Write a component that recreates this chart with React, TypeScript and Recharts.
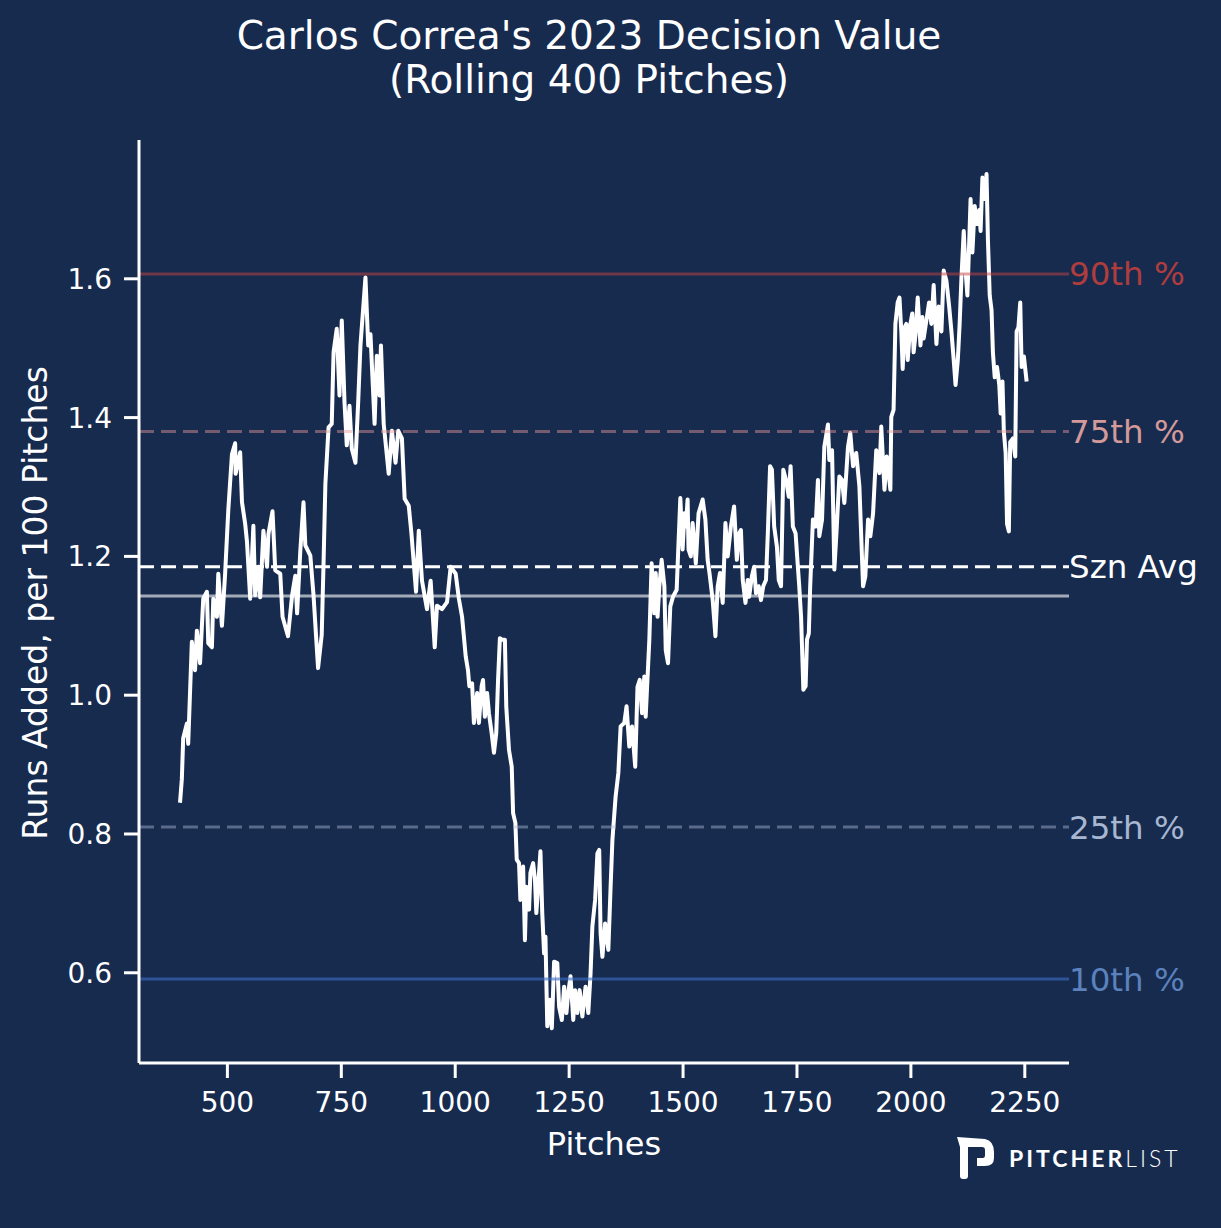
import { LineChart, Line, XAxis, YAxis, ReferenceLine } from 'recharts'

// rolling 400-pitch decision value
const pitchNumbers = [
  396, 400, 403, 411, 414, 422, 429, 433, 440, 447, 455, 458, 466, 469, 477, 480, 488, 495, 502, 510,
  517, 518, 528, 532, 539, 543, 550, 557, 561, 568, 572, 579, 587, 590, 599, 605, 616, 621, 633, 642,
  649, 653, 660, 667, 671, 682, 689, 699, 707, 711, 715, 722, 729, 733, 740, 746, 751, 757, 762, 768,
  773, 781, 787, 792, 803, 809, 814, 823, 828, 834, 837, 843, 854, 861, 869, 875, 883, 889, 898, 904,
  914, 920, 927, 938, 946, 955, 960, 971, 982, 990, 1001, 1008, 1015,
  1023, 1028, 1031, 1037, 1041, 1048, 1052, 1058, 1061, 1065, 1070, 1074, 1080, 1085, 1090, 1094, 1098,
  1103, 1109, 1112, 1118, 1124, 1127, 1132, 1135, 1140, 1143, 1149, 1153, 1156, 1162, 1165, 1171, 1175,
  1178, 1182, 1187, 1191, 1195, 1198, 1202, 1207, 1212, 1217, 1224, 1228, 1234, 1239, 1244, 1248, 1253,
  1259, 1263, 1268, 1273, 1279, 1286, 1292, 1297, 1301, 1307, 1312, 1316, 1319, 1323, 1329, 1336, 1341,
  1345, 1352, 1358, 1363, 1371, 1376, 1382, 1388, 1395, 1400, 1405, 1410, 1415, 1418,
  1426, 1431, 1437, 1440, 1444, 1448, 1453, 1459, 1462, 1467, 1472, 1478, 1486, 1490, 1494, 1499, 1503,
  1506, 1510, 1512, 1517, 1521, 1528, 1534, 1543, 1549, 1554, 1558, 1565, 1571, 1576, 1581, 1587, 1593,
  1598, 1605, 1612, 1618, 1623, 1627, 1631, 1637, 1642, 1645, 1651, 1656, 1660, 1666, 1671, 1676, 1682,
  1686, 1691, 1695, 1700, 1706, 1710, 1715, 1720, 1726, 1732, 1736, 1741, 1747, 1752, 1755, 1759, 1764,
  1769, 1772, 1776, 1779, 1785, 1791, 1796, 1799, 1805, 1810, 1818, 1821, 1827, 1832, 1837, 1843, 1849,
  1854, 1862, 1867, 1873, 1880, 1887, 1895, 1900, 1906, 1911, 1917, 1924, 1931, 1935, 1942, 1947, 1955,
  1957, 1962, 1966, 1971, 1975, 1979, 1982, 1986, 1990, 1993, 1999, 2003, 2006, 2010, 2015, 2021, 2025,
  2028, 2034, 2040, 2045, 2050, 2056, 2061, 2067, 2072, 2078, 2084, 2089, 2094, 2098, 2103, 2107, 2111,
  2116, 2120, 2124, 2128, 2131, 2135, 2140, 2145, 2150, 2153, 2157, 2162, 2166, 2169, 2173, 2177, 2180,
  2184, 2189, 2194, 2197, 2201, 2204, 2208, 2211, 2215, 2218, 2224, 2229, 2232, 2236, 2240, 2243, 2248, 2254,
]

const decisionValues = [
  0.845, 0.879, 0.938, 0.959, 0.93, 1.077, 1.036, 1.093, 1.046, 1.139, 1.149, 1.075, 1.069, 1.139, 1.113, 1.175, 1.1, 1.175, 1.267, 1.347,
  1.363, 1.319, 1.35, 1.278, 1.247, 1.221, 1.139, 1.244, 1.144, 1.185, 1.141, 1.237, 1.185, 1.232, 1.265, 1.18, 1.175, 1.113, 1.085, 1.144,
  1.172, 1.118, 1.208, 1.278, 1.216, 1.201, 1.144, 1.039, 1.087, 1.19, 1.304, 1.386, 1.391, 1.494, 1.528, 1.432, 1.54, 1.422, 1.36, 1.417,
  1.355, 1.335, 1.422, 1.504, 1.602, 1.504, 1.52, 1.391, 1.489, 1.432, 1.504, 1.391, 1.319, 1.381, 1.335, 1.381, 1.37, 1.283, 1.273, 1.232,
  1.149, 1.237, 1.165, 1.124, 1.165, 1.069, 1.129, 1.124, 1.134, 1.185, 1.175, 1.139, 1.113,
  1.056, 1.036, 1.013, 1.017, 0.96, 1.003, 0.96, 1.013, 1.022, 0.969, 1.003, 0.974, 0.945, 0.917, 0.945, 1.022, 1.082,
  1.08, 1.08, 0.984, 0.921, 0.897, 0.83, 0.816, 0.763, 0.758, 0.705, 0.753, 0.647, 0.724, 0.691, 0.744, 0.758, 0.734,
  0.686, 0.724, 0.775, 0.686, 0.628, 0.652, 0.523, 0.561, 0.52, 0.616, 0.614, 0.551, 0.532, 0.58, 0.542, 0.571, 0.595,
  0.532, 0.575, 0.542, 0.575, 0.537, 0.58, 0.542, 0.599, 0.667, 0.705, 0.772, 0.777, 0.657, 0.623, 0.671, 0.633, 0.724,
  0.792, 0.854, 0.888, 0.955, 0.96, 0.984, 0.926, 0.955, 0.897, 1.012, 1.022, 0.974, 1.027, 0.969,
  1.08, 1.19, 1.118, 1.176, 1.113, 1.157, 1.195, 1.157, 1.065, 1.046, 1.128, 1.142, 1.152, 1.219, 1.284, 1.21, 1.262,
  1.243, 1.282, 1.21, 1.2, 1.248, 1.19, 1.262, 1.282, 1.253, 1.195, 1.176, 1.137, 1.085, 1.157, 1.176, 1.133, 1.248,
  1.2, 1.243, 1.272, 1.195, 1.233, 1.238, 1.166, 1.133, 1.166, 1.142, 1.171, 1.185, 1.147, 1.157, 1.137, 1.157, 1.166,
  1.233, 1.33, 1.325, 1.243, 1.214, 1.166, 1.157, 1.325, 1.31, 1.286, 1.33, 1.243, 1.233, 1.185, 1.157, 1.113, 1.008,
  1.013, 1.08, 1.089, 1.157, 1.253, 1.243, 1.31, 1.229, 1.253, 1.358, 1.39, 1.339, 1.353, 1.181, 1.238, 1.315, 1.31,
  1.277, 1.358, 1.378, 1.33, 1.349, 1.301, 1.157, 1.171, 1.253, 1.229, 1.262, 1.353, 1.32, 1.387, 1.296, 1.344, 1.296,
  1.401, 1.411, 1.535, 1.566, 1.573, 1.524, 1.47, 1.53, 1.535, 1.483, 1.535, 1.55, 1.494, 1.519, 1.573, 1.504, 1.545,
  1.514, 1.54, 1.566, 1.535, 1.591, 1.506, 1.56, 1.524, 1.612, 1.597, 1.56, 1.524, 1.483, 1.447, 1.483, 1.535, 1.602,
  1.669, 1.612, 1.576, 1.653, 1.715, 1.638, 1.705, 1.679, 1.699, 1.669, 1.746, 1.715, 1.751, 1.658, 1.576, 1.555, 1.494,
  1.458, 1.473, 1.447, 1.406, 1.452, 1.38, 1.349, 1.247, 1.236, 1.365, 1.37, 1.344, 1.524, 1.53, 1.566, 1.473, 1.488, 1.452,
]

const pct90 = 1.607
const pct75 = 1.38
const seasonAvg = 1.185
const leagueAvg = 1.143
const pct25 = 0.81
const pct10 = 0.591

const xTicks = [500, 750, 1000, 1250, 1500, 1750, 2000, 2250]
const yTicks = [0.6, 0.8, 1.0, 1.2, 1.4, 1.6]

const BG = '#172b4f'
const FONT = '"DejaVu Sans", sans-serif'

const chartData = pitchNumbers.map((p, i) => ({ p, v: decisionValues[i] }))

function refLabel(value: string, fill: string) {
  return { value, position: 'right' as const, fill, fontSize: 32.5, fontFamily: FONT, offset: 0 }
}

export default function App() {
  return (
    <div style={{ position: 'absolute', left: 0, top: 0, width: 1221, height: 1228, background: BG, fontFamily: FONT, color: '#fff' }}>
      <div style={{ position: 'absolute', left: 89, top: 14, width: 1000, textAlign: 'center', fontSize: 39, lineHeight: '44px' }}>
        Carlos Correa's 2023 Decision Value
        <br />
        (Rolling 400 Pitches)
      </div>

      <LineChart
        width={1221}
        height={1228}
        data={chartData}
        margin={{ top: 140, right: 152, bottom: 105, left: 79 }}
        style={{ position: 'absolute', left: 0, top: 0 }}
      >
        <XAxis
          type="number"
          dataKey="p"
          domain={[306, 2347]}
          ticks={xTicks}
          allowDataOverflow
          height={60}
          axisLine={{ stroke: '#fff', strokeWidth: 3 }}
          tickLine={{ stroke: '#fff', strokeWidth: 3 }}
          tickSize={15}
          tickMargin={14}
          tick={{ fill: '#fff', fontSize: 28, fontFamily: FONT }}
        />
        <YAxis
          type="number"
          domain={[0.47, 1.8]}
          ticks={yTicks}
          allowDataOverflow
          width={60}
          axisLine={{ stroke: '#fff', strokeWidth: 3 }}
          tickLine={{ stroke: '#fff', strokeWidth: 3 }}
          tickSize={15}
          tickMargin={12}
          tickFormatter={(v: number) => v.toFixed(1)}
          tick={{ fill: '#fff', fontSize: 28, fontFamily: FONT }}
        />
        <Line
          type="linear"
          dataKey="v"
          stroke="#ffffff"
          strokeWidth={4}
          strokeLinejoin="round"
          dot={false}
          isAnimationActive={false}
        />
        <ReferenceLine y={pct90} stroke="rgba(200,70,70,0.5)" strokeWidth={3} label={refLabel('90th %', '#b03d3e')} />
        <ReferenceLine y={pct75} stroke="rgba(230,150,150,0.45)" strokeWidth={3} strokeDasharray="15 7" label={refLabel('75th %', '#d49a9a')} />
        <ReferenceLine y={seasonAvg} stroke="#ffffff" strokeWidth={3} strokeDasharray="15 7" label={refLabel('Szn Avg', '#ffffff')} />
        <ReferenceLine y={leagueAvg} stroke="rgba(255,255,255,0.6)" strokeWidth={3} />
        <ReferenceLine y={pct25} stroke="rgba(170,185,210,0.45)" strokeWidth={3} strokeDasharray="15 7" label={refLabel('25th %', '#a7b6d1')} />
        <ReferenceLine y={pct10} stroke="rgba(60,110,200,0.6)" strokeWidth={3} label={refLabel('10th %', '#5b82bd')} />
      </LineChart>

      <div
        style={{
          position: 'absolute',
          left: 35,
          top: 603,
          transform: 'translate(-50%, -50%) rotate(-90deg)',
          whiteSpace: 'nowrap',
          fontSize: 33,
          lineHeight: '33px',
        }}
      >
        Runs Added, per 100 Pitches
      </div>
      <div style={{ position: 'absolute', left: 404, top: 1128, width: 400, textAlign: 'center', fontSize: 32, lineHeight: '32px' }}>
        Pitches
      </div>

      {/* Pitcher List logo */}
      <svg width={40} height={46} style={{ position: 'absolute', left: 955, top: 1134 }}>
        <path
          d="M2 3 L30 5 Q39 7 39 18 L39 24 Q39 32 30 32 L22 32 L22 24 L28 24 Q30 24 30 21 L30 16 Q30 13 27 13 L13 13 L13 42 Q13 45 10 45 L8 45 Q5 45 5 42 L5 13 Z"
          fill="#ffffff"
        />
      </svg>
      <div
        style={{
          position: 'absolute',
          left: 1009,
          top: 1147,
          fontFamily: 'Lato, sans-serif',
          fontSize: 23,
          lineHeight: '23px',
          letterSpacing: 3,
          whiteSpace: 'nowrap',
        }}
      >
        <span style={{ fontWeight: 700 }}>PITCHER</span>
        <span style={{ fontWeight: 300 }}>LIST</span>
      </div>
    </div>
  )
}
